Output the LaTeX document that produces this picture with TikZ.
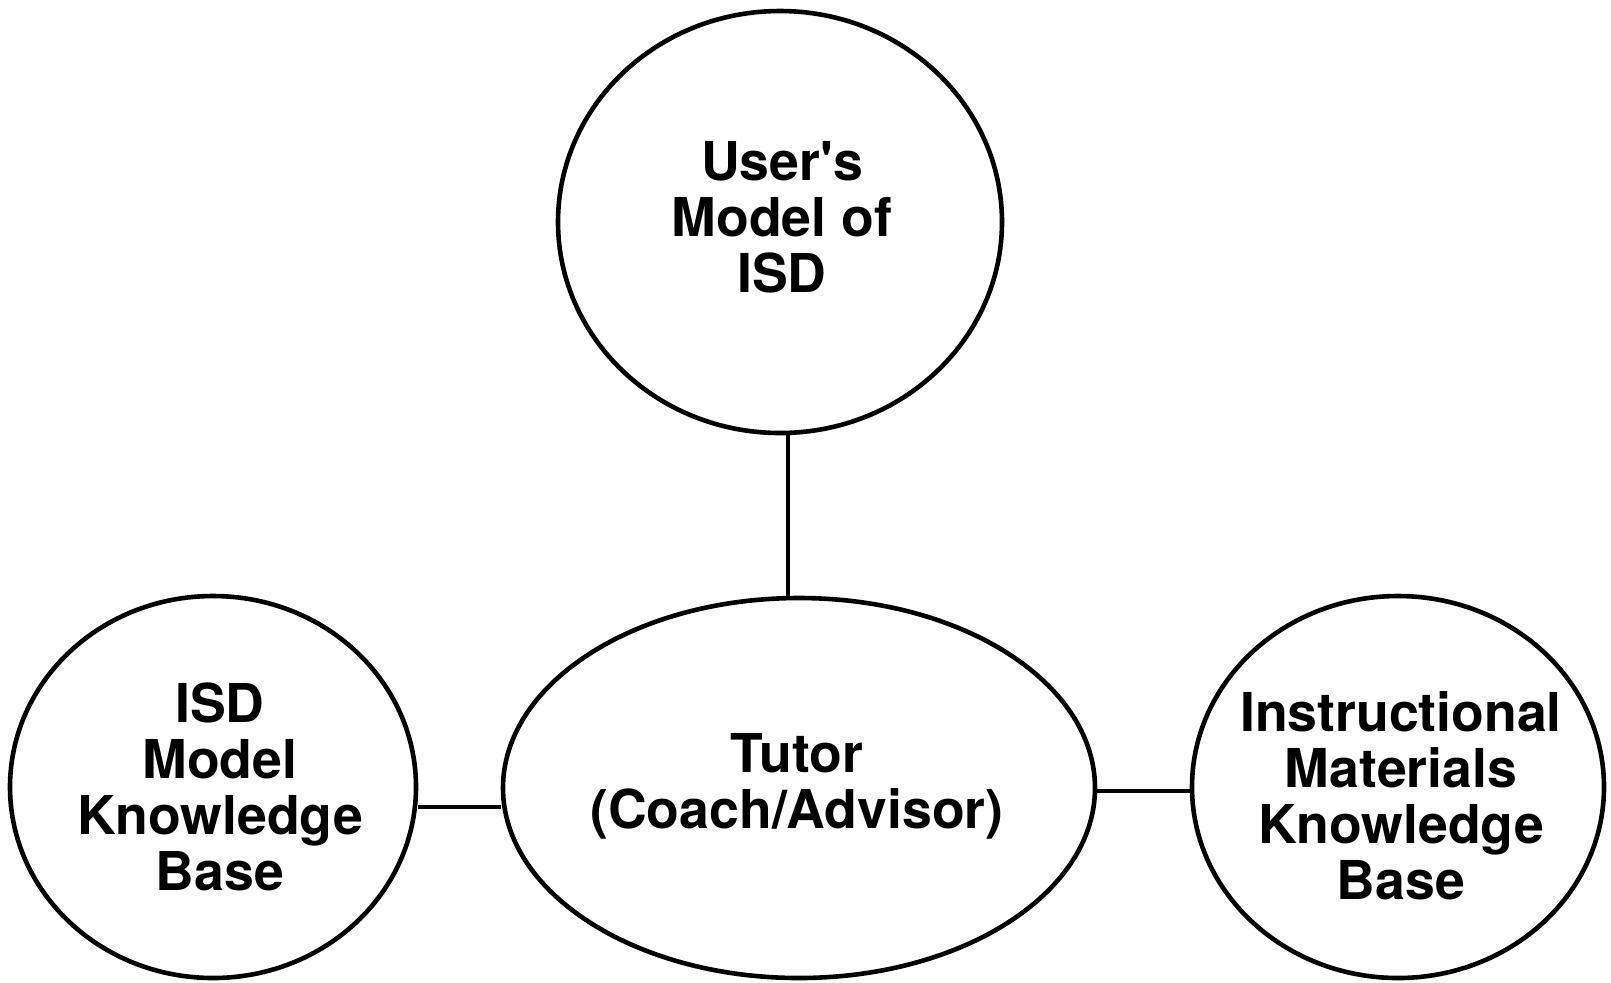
\documentclass[tikz,border=0pt]{standalone}
\usepackage{fontspec}
\setmainfont{TeX Gyre Heros}
\usetikzlibrary{shapes.geometric}
\tikzset{
  bubble/.style={draw=black, line width=2.3pt, ellipse, inner sep=0pt},
  caption/.style={align=center, inner sep=0pt,
    font=\bfseries\fontsize{26.8}{28}\selectfont},
  link/.style={draw=black, line width=2.3pt}
}
\begin{document}
\begin{tikzpicture}[x=0.5pt, y=-0.5pt]
  \useasboundingbox[fill=white] (0,0) rectangle (1611,982);

  % the four components; captions are centred labels so the outlines keep their size
  \node[bubble, minimum width=222pt, minimum height=211pt,
        label={[caption, xshift=1pt, yshift=2.5pt]center:{User\textquotesingle s\\Model of\\ISD}}]
        (user) at (780,222) {};
  \node[bubble, minimum width=203pt, minimum height=191pt,
        label={[caption, xshift=3.5pt]center:{ISD\\Model\\Knowledge\\Base}}]
        (isd) at (213,787) {};
  \node[bubble, minimum width=296pt, minimum height=190pt,
        label={[caption, xshift=-1pt, yshift=1pt]center:{Tutor\\(Coach/Advisor)}}]
        (tutor) at (799,788) {};
  \node[bubble, minimum width=206pt, minimum height=191pt,
        label={[caption, xshift=1.5pt, yshift=-4.5pt]center:{Instructional\\Materials\\Knowledge\\Base}}]
        (imkb) at (1398,787) {};

  % connections to the tutor
  \draw[link] ([xshift=4pt]user.south) -- ([xshift=-5.5pt]tutor.north);
  \draw[link] ([yshift=-10pt]isd.east) -- ([yshift=-9.5pt]tutor.west);
  \draw[link] ([yshift=-1.5pt]tutor.east) -- ([yshift=-2pt]imkb.west);
\end{tikzpicture}
\end{document}
